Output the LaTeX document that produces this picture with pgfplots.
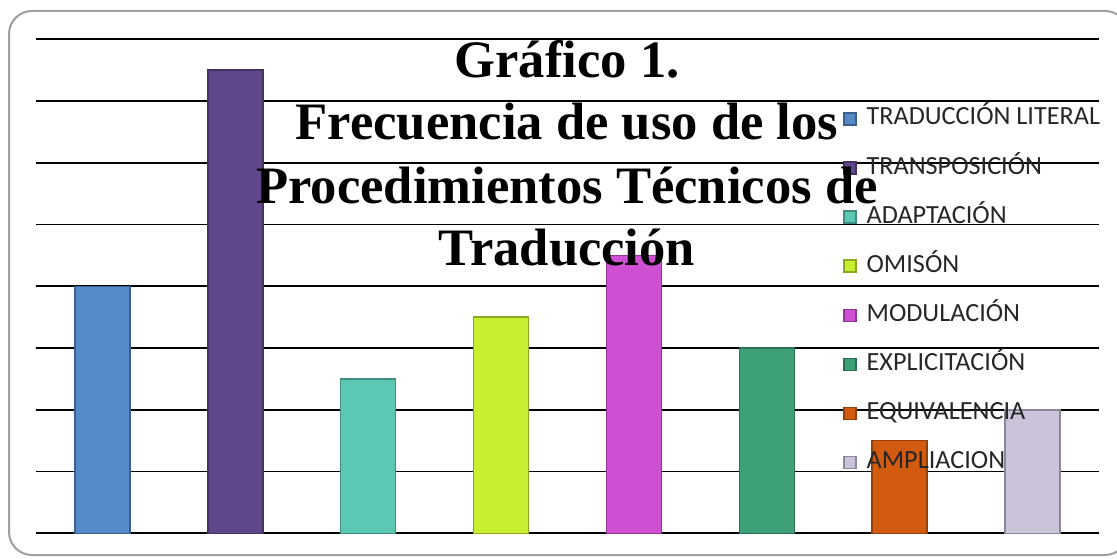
\documentclass[border=0pt]{standalone}
\usepackage{pgfplots}
\pgfplotsset{compat=1.18}
\usepackage{fontspec}
\setmainfont{Liberation Serif}
\newfontfamily\carlito{Carlito}
\definecolor{c1}{HTML}{5589C8}
\definecolor{c2}{HTML}{60468A}
\definecolor{c3}{HTML}{5BC8B4}
\definecolor{c4}{HTML}{C8EE30}
\definecolor{c5}{HTML}{CF4FD2}
\definecolor{c6}{HTML}{3DA077}
\definecolor{c7}{HTML}{D35B0F}
\definecolor{c8}{HTML}{CAC3DA}
\pgfplotsset{
  mybar/.style={ybar, bar width=27.5pt, bar shift=0pt, fill=#1, draw=#1!70!black, line width=0.8pt,
    legend image code/.code={\fill[##1] (0pt,0pt) rectangle (6pt,6pt); \path (11pt,0pt);}},
}
\begin{document}
\begin{tikzpicture}
\useasboundingbox (0,0) rectangle (558.5pt,279pt);
\draw[gray!75, line width=1pt, rounded corners=11.5pt] (4.5pt,1.5pt) rectangle (564pt,273.5pt);
\begin{axis}[at={(18pt,12.35pt)}, anchor=south west, scale only axis,
  width=531.5pt, height=247pt,
  xmin=0.5, xmax=8.5, ymin=0, ymax=8,
  axis line style={draw=none},
  xtick=\empty, ytick={0,1,...,8}, yticklabels={}, major tick length=0pt,
  ymajorgrids, grid style={black, line width=0.9pt},
  clip=false,
  legend style={at={(0.7592,0.8630)}, anchor=north west, draw=none, fill=none,
    inner sep=0pt, outer sep=0pt, row sep=15.14pt,
    nodes={anchor=base west, inner sep=0pt, text height=9pt, text depth=0pt,
      text=black!85, font=\carlito\fontsize{13.1}{13.1}\selectfont},
    cells={anchor=base west}},
]
\addplot[mybar=c1] coordinates {(1,4)};
\addlegendentry{TRADUCCIÓN LITERAL}
\addplot[mybar=c2] coordinates {(2,7.5)};
\addlegendentry{TRANSPOSICIÓN}
\addplot[mybar=c3] coordinates {(3,2.5)};
\addlegendentry{ADAPTACIÓN}
\addplot[mybar=c4] coordinates {(4,3.5)};
\addlegendentry{OMISÓN}
\addplot[mybar=c5] coordinates {(5,4.5)};
\addlegendentry{MODULACIÓN}
\addplot[mybar=c6] coordinates {(6,3)};
\addlegendentry{EXPLICITACIÓN}
\addplot[mybar=c7] coordinates {(7,1.5)};
\addlegendentry{EQUIVALENCIA}
\addplot[mybar=c8] coordinates {(8,2)};
\addlegendentry{AMPLIACION}
\end{axis}
\begin{scope}[every node/.style={anchor=base, inner sep=0pt, font=\bfseries\fontsize{26.3}{26.3}\selectfont}]
\node at (283.5pt,240pt) {Gráfico 1.};
\node at (283.5pt,209pt) {Frecuencia de uso de los};
\node at (283.5pt,177.5pt) {Procedimientos Técnicos de};
\node at (283.5pt,146.5pt) {Traducción};
\end{scope}
\end{tikzpicture}
\end{document}
